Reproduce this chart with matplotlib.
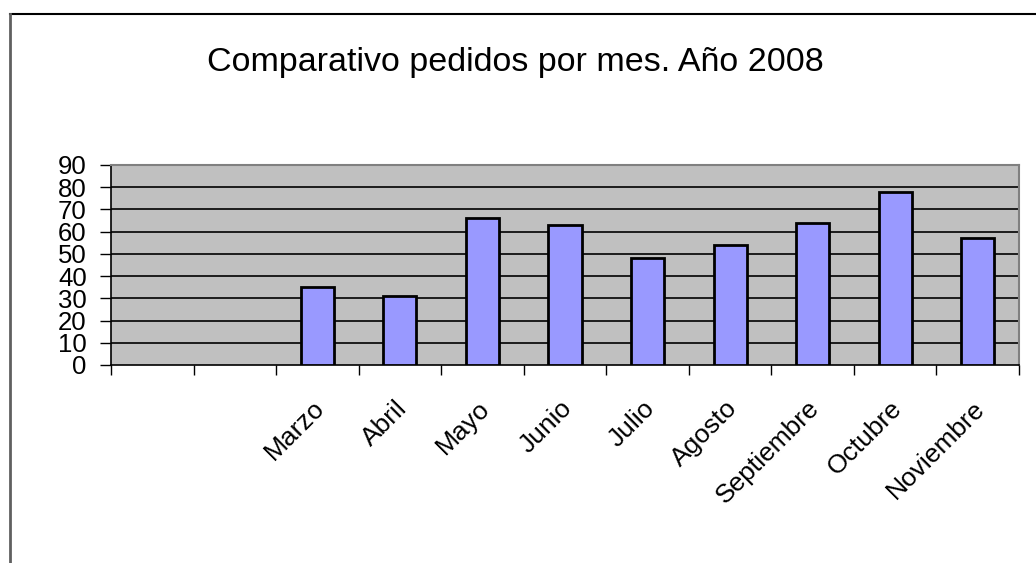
import matplotlib
matplotlib.use("Agg")
import matplotlib.pyplot as plt
from matplotlib.lines import Line2D

categories = ["", "", "Marzo", "Abril", "Mayo", "Junio", "Julio", "Agosto",
              "Septiembre", "Octubre", "Noviembre"]
values = [None, None, 35, 31, 66, 63, 48, 54, 64, 78, 57]
yticks = [0, 10, 20, 30, 40, 50, 60, 70, 80, 90]
title = "Comparativo pedidos por mes. Año 2008"

plt.rcParams['font.family'] = ['Liberation Sans', 'DejaVu Sans']

fig = plt.figure(figsize=(10.36, 5.63), dpi=100)
ax = fig.add_axes([111/1036, 1-365/563, (1019-111)/1036, 200/563])
ax.set_facecolor('#C0C0C0')

xs = [i for i, v in enumerate(values) if v is not None]
hs = [v for v in values if v is not None]
ax.bar(xs, hs, width=0.4, color='#9999FF', edgecolor='black', linewidth=2, zorder=3)

ax.set_xlim(-0.5, len(categories) - 0.5)
ax.set_ylim(0, 90)
ax.set_yticks(yticks)
ax.set_yticklabels([str(t) for t in yticks], fontsize=18.5)
for t in yticks[1:-1]:
    ax.axhline(t, color='black', linewidth=1.2, zorder=1)

ax.set_xticks([i + 0.5 for i in range(-1, len(categories))])
ax.set_xticklabels([])
ax.tick_params(axis='x', direction='out', length=7, width=1, color='black')
ax.tick_params(axis='y', direction='out', length=8, width=1, color='black', pad=9.5)

for i, c in enumerate(categories):
    if c:
        ax.text(i - 0.065, -14.0, c, rotation=45, ha='right', va='top',
                rotation_mode='anchor', fontsize=19)

for s in ['top', 'right']:
    ax.spines[s].set_color('#808080')
    ax.spines[s].set_linewidth(1.5)
for s in ['left', 'bottom']:
    ax.spines[s].set_color('black')
    ax.spines[s].set_linewidth(1.2)

fig.text(515/1036, 1-63/563, title, ha='center', va='center', fontsize=24.5)

fig.add_artist(Line2D([10/1036, 1.0], [1-14/563, 1-14/563], color='black', linewidth=1.5,
                      transform=fig.transFigure))
fig.add_artist(Line2D([10/1036, 10/1036], [0, 1-14/563], color='#606060', linewidth=2,
                      transform=fig.transFigure))

fig.savefig("out.png", dpi=100)
